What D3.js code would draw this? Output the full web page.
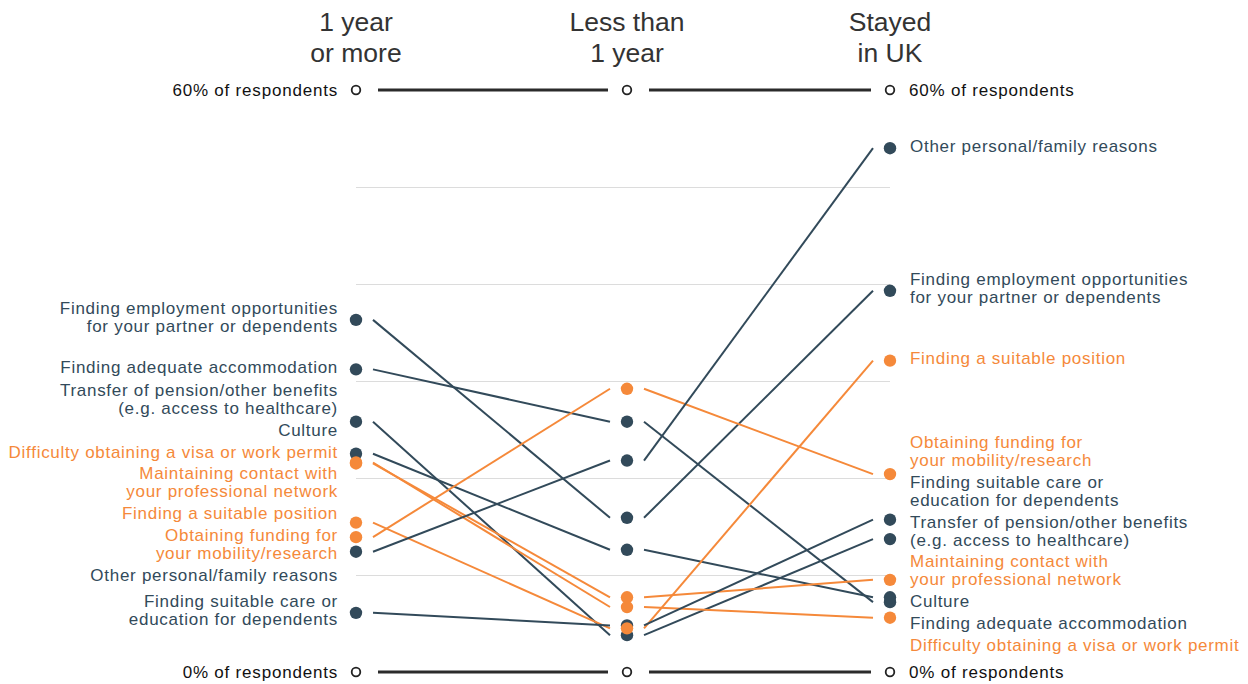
<!DOCTYPE html>
<html>
<head>
<meta charset="utf-8">
<script src="https://cdn.jsdelivr.net/npm/d3@7"></script>
<style>
  html, body { margin: 0; padding: 0; background: #fff; }
  svg { display: block; font-family: "Liberation Sans", Arial, Helvetica, sans-serif; }
</style>
</head>
<body>
<svg id="chart" width="1248" height="684"></svg>
<script>
// ---------- data ----------
const columns = ["1 year\nor more", "Less than\n1 year", "Stayed\nin UK"];

const categories = [
  "Finding employment opportunities\nfor your partner or dependents",
  "Finding adequate accommodation",
  "Transfer of pension/other benefits\n(e.g. access to healthcare)",
  "Culture",
  "Difficulty obtaining a visa or work permit",
  "Maintaining contact with\nyour professional network",
  "Finding a suitable position",
  "Obtaining funding for\nyour mobility/research",
  "Other personal/family reasons",
  "Finding suitable care or\neducation for dependents"
];

// share of respondents (%)
const oneYearOrMore   = [36.3, 31.2, 25.8, 22.5, 21.6, 21.5, 15.4, 13.9, 12.4, 6.1];
const lessThanOneYear = [15.9, 25.8, 3.8, 12.6, 6.7, 7.7, 4.5, 29.2, 21.8, 4.8];
const stayedInUK      = [39.3, 7.2, 13.7, 7.7, 5.6, 9.5, 32.1, 20.4, 54.0, 15.7];

// categories shown in orange
const highlighted = [
  "Difficulty obtaining a visa or work permit",
  "Maintaining contact with\nyour professional network",
  "Finding a suitable position",
  "Obtaining funding for\nyour mobility/research"
];

const gridTicks = [10, 20, 30, 40, 50];
const axisTicks = [60, 0];
const axisLabel = v => `${v}% of respondents`;

// ---------- setup ----------
const DARK = "#324a5a", ORANGE = "#f5893a";
const svg = d3.select("#chart");

const x = d3.scaleOrdinal().domain(columns).range([356, 627, 890]);
const y = d3.scaleLinear().domain([0, 60]).range([672, 90]);

const seriesValues = [oneYearOrMore, lessThanOneYear, stayedInUK];
const rows = categories.map((c, i) => ({
  name: c,
  hi: highlighted.includes(c),
  vals: seriesValues.map(s => s[i])
}));
const color = d => d.hi ? ORANGE : DARK;

// ---------- gridlines ----------
svg.append("g")
  .attr("transform", `translate(${x(columns[2])},0)`)
  .call(d3.axisLeft(y).tickValues(gridTicks).tickSize(x(columns[2]) - x(columns[0])).tickFormat(""))
  .call(g => g.select(".domain").remove())
  .call(g => g.selectAll("line").attr("stroke", "#dcdcdc").attr("stroke-width", 1));

// ---------- headers ----------
const hdr = svg.append("g");
columns.forEach(c => {
  const t = hdr.append("text")
    .attr("x", x(c)).attr("text-anchor", "middle")
    .attr("font-size", 26.5).attr("fill", "#333");
  c.split("\n").forEach((ln, k) => {
    t.append("tspan").attr("x", x(c)).attr("y", 22 + k * 31)
      .attr("dominant-baseline", "central").text(ln);
  });
});

// ---------- 0% / 60% axis rows ----------
const axisG = svg.append("g");
axisTicks.forEach(v => {
  const yy = y(v);
  for (let k = 0; k < columns.length - 1; k++) {
    axisG.append("line")
      .attr("x1", x(columns[k]) + 22).attr("x2", x(columns[k + 1]) - 19)
      .attr("y1", yy).attr("y2", yy)
      .attr("stroke", "#2b2b2b").attr("stroke-width", 3);
  }
  columns.forEach(c => {
    axisG.append("circle").attr("cx", x(c)).attr("cy", yy).attr("r", 4.3)
      .attr("fill", "#fff").attr("stroke", "#222").attr("stroke-width", 1.8);
  });
  axisG.append("text").attr("x", x(columns[0]) - 18).attr("y", yy)
    .attr("text-anchor", "end").attr("dominant-baseline", "central")
    .attr("font-size", 17).attr("letter-spacing", 0.8).attr("fill", "#111").text(axisLabel(v));
  axisG.append("text").attr("x", x(columns[2]) + 19).attr("y", yy)
    .attr("text-anchor", "start").attr("dominant-baseline", "central")
    .attr("font-size", 17).attr("letter-spacing", 0.8).attr("fill", "#111").text(axisLabel(v));
});

// ---------- slope lines ----------
const GAP = 17;
const lineG = svg.append("g");
rows.forEach(r => {
  for (let k = 0; k < columns.length - 1; k++) {
    lineG.append("line")
      .attr("x1", x(columns[k]) + GAP).attr("y1", y(r.vals[k]))
      .attr("x2", x(columns[k + 1]) - GAP).attr("y2", y(r.vals[k + 1]))
      .attr("stroke", color(r)).attr("stroke-width", 2);
  }
});

// ---------- dots (dark first, orange on top) ----------
const dotG = svg.append("g");
const ordered = rows.filter(r => !r.hi).concat(rows.filter(r => r.hi));
ordered.forEach(r => {
  columns.forEach((c, k) => {
    dotG.append("circle").attr("cx", x(c)).attr("cy", y(r.vals[k])).attr("r", 6.2)
      .attr("fill", color(r));
  });
});

// ---------- labels with collision avoidance ----------
const LH = 18, LGAP = 4, FS = 17, LS = 0.72;
function relax(items) {
  items.sort((a, b) => a.y0 - b.y0);
  items.forEach(d => d.y = d.y0);
  for (let it = 0; it < 2000; it++) {
    let moved = false;
    for (let i = 0; i < items.length - 1; i++) {
      const a = items[i], b = items[i + 1];
      const minD = a.h / 2 + b.h / 2 + LGAP;
      const d = b.y - a.y;
      if (d < minD - 0.01) {
        const o = (minD - d) / 2;
        a.y -= o; b.y += o; moved = true;
      }
    }
    if (!moved) break;
  }
  return items;
}

function drawLabels(colIdx, side) {
  const items = rows.map(r => ({
    r, lines: r.name.split("\n"),
    y0: y(r.vals[colIdx]) - 2
  }));
  items.forEach(d => d.h = d.lines.length * LH);
  relax(items);
  const xx = side === "left" ? x(columns[colIdx]) - 18 : x(columns[colIdx]) + 20;
  const g = svg.append("g");
  items.forEach(d => {
    const t = g.append("text")
      .attr("text-anchor", side === "left" ? "end" : "start")
      .attr("font-size", FS).attr("letter-spacing", LS).attr("fill", color(d.r));
    d.lines.forEach((ln, k) => {
      t.append("tspan").attr("x", xx)
        .attr("y", d.y - (d.lines.length - 1) * LH / 2 + k * LH)
        .attr("dominant-baseline", "central").text(ln);
    });
  });
}
drawLabels(0, "left");
drawLabels(2, "right");
</script>
</body>
</html>
